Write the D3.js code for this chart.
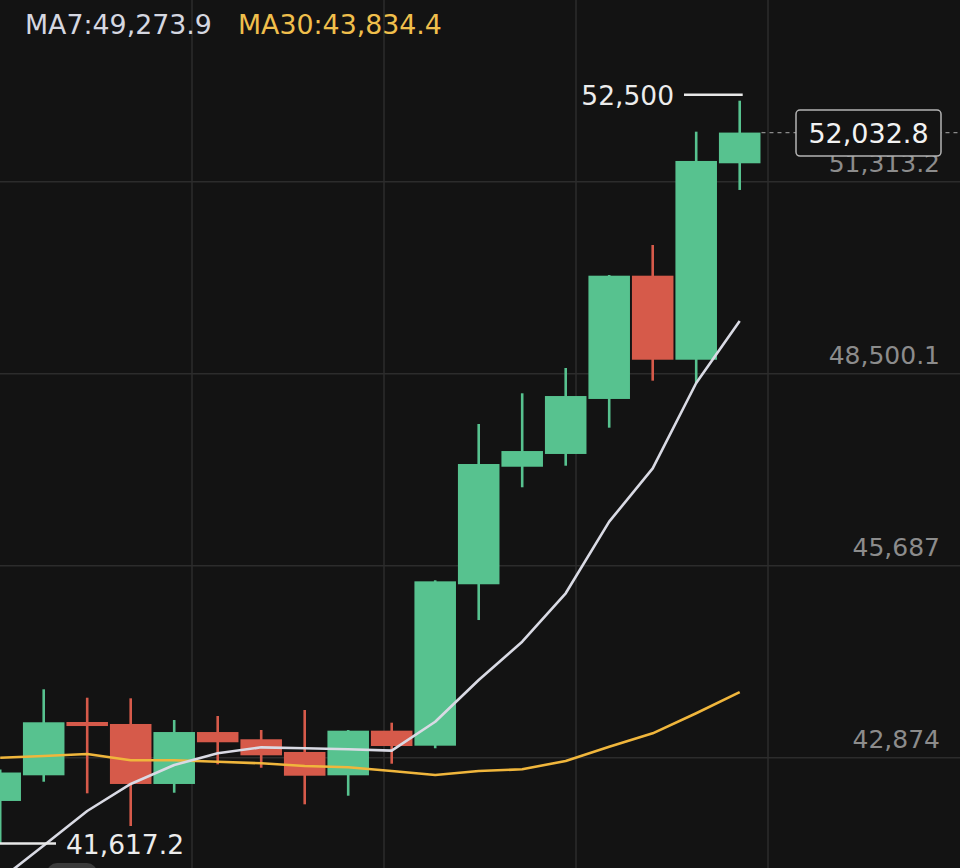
<!DOCTYPE html>
<html>
<head>
<meta charset="utf-8">
<script src="https://cdn.jsdelivr.net/npm/d3@7/dist/d3.min.js"></script>
<style>
  html, body { margin: 0; padding: 0; background: #131313; }
  svg { display: block; }
  text { font-family: "DejaVu Sans", sans-serif; }
</style>
</head>
<body>
<svg id="chart" width="960" height="868"></svg>
<script>
// ---- data ----
const opens  = [42240, 42616, 43397, 43368, 42489, 43250, 43144, 42958, 42616, 43270, 43050, 45415, 47137, 47324, 48130, 49936, 48705, 51583];
const highs  = [42700, 43876, 43753, 43744, 43426, 43485, 43280, 43573, 43280, 43387, 45473, 47763, 48213, 48584, 49946, 50386, 52046, 52500];
const lows   = [41617.2, 42522, 42352, 41873, 42361, 42777, 42727, 42191, 42317, 42786, 43012, 44891, 46836, 47152, 47709, 48398, 48360, 51192];
const closes = [42657, 43393, 43338, 42489, 43250, 43100, 42909, 42610, 43270, 43045, 45458, 47177, 47367, 48173, 49936, 48705, 51617, 52032.8];
const ma7    = [41087, 41589, 42093, 42489, 42767, 42938, 43026, 43012, 42997, 42977, 43401, 44012, 44574, 45283, 46332, 47114, 48364, 49274];
const ma30   = [42874, 42899, 42928, 42836, 42836, 42815, 42792, 42752, 42733, 42679, 42621, 42679, 42704, 42826, 43035, 43231, 43525, 43834];
const priceTicks = [42874, 45687, 48500.1, 51313.2];
const tickLabels = ["42,874", "45,687", "48,500.1", "51,313.2"];
const lastPrice = 52032.8;
const lastPriceLabel = "52,032.8";
const highLabel = "52,500";
const lowLabel = "41,617.2";
const ma7Label = "MA7:49,273.9";
const ma30Label = "MA30:43,834.4";

// ---- layout ----
const W = 960, H = 868;
const svg = d3.select("#chart");
const GREEN = "#57c28f", RED = "#d65a4a", GRID = "#2c2c2c";

const x = d3.scaleLinear().domain([0, opens.length - 1]).range([0.2, 739.7]);
const y = d3.scaleLinear().domain([42874, 51313.2]).range([757.7, 181.7]);
const step = x(1) - x(0);
const bodyW = step * 0.955;

svg.append("rect").attr("width", W).attr("height", H).attr("fill", "#131313");

// grid
const g = svg.append("g");
g.selectAll("line.h").data(priceTicks).join("line")
  .attr("x1", 0).attr("x2", W)
  .attr("y1", d => y(d)).attr("y2", d => y(d))
  .attr("stroke", GRID).attr("stroke-width", 1.5);
g.selectAll("line.v").data([1, 2, 3, 4]).join("line")
  .attr("x1", d => W * d / 5).attr("x2", d => W * d / 5)
  .attr("y1", 0).attr("y2", H)
  .attr("stroke", GRID).attr("stroke-width", 1.5);

// axis labels
svg.append("g").selectAll("text").data(priceTicks).join("text")
  .attr("x", 940).attr("y", d => y(d) - 10)
  .attr("text-anchor", "end")
  .attr("font-size", 25)
  .attr("fill", "#8c8c8c")
  .text((d, i) => tickLabels[i]);

// candles
const idx = d3.range(opens.length);
const cg = svg.append("g");
cg.selectAll("line.wick").data(idx).join("line")
  .attr("x1", i => x(i)).attr("x2", i => x(i))
  .attr("y1", i => y(highs[i])).attr("y2", i => y(lows[i]))
  .attr("stroke", i => closes[i] >= opens[i] ? GREEN : RED)
  .attr("stroke-width", 2.6);
cg.selectAll("rect.body").data(idx).join("rect")
  .attr("x", i => x(i) - bodyW / 2)
  .attr("width", bodyW)
  .attr("y", i => y(Math.max(opens[i], closes[i])))
  .attr("height", i => Math.max(1.5, Math.abs(y(opens[i]) - y(closes[i]))))
  .attr("fill", i => closes[i] >= opens[i] ? GREEN : RED);

// MA lines
const line = arr => d3.line().x((d, i) => x(i)).y(d => y(d))(arr);
svg.append("path").attr("d", line(ma30)).attr("fill", "none")
  .attr("stroke", "#f0b63c").attr("stroke-width", 2.6).attr("stroke-linejoin", "round");
svg.append("path").attr("d", line(ma7)).attr("fill", "none")
  .attr("stroke", "#d9dae4").attr("stroke-width", 2.6).attr("stroke-linejoin", "round");

// legend
svg.append("text").attr("x", 25).attr("y", 34).attr("font-size", 26.8)
  .attr("fill", "#d5d7e0").text(ma7Label);
svg.append("text").attr("x", 238).attr("y", 34).attr("font-size", 26.8)
  .attr("fill", "#f0bf4c").text(ma30Label);

// high marker
const last = opens.length - 1;
const hy = y(highs[last]) - 6;
svg.append("line").attr("x1", 684).attr("x2", x(last) + 3).attr("y1", hy).attr("y2", hy)
  .attr("stroke", "#e8e8e8").attr("stroke-width", 2.5);
svg.append("text").attr("x", 674).attr("y", hy + 10.5).attr("text-anchor", "end")
  .attr("font-size", 26.5).attr("fill", "#ececec").text(highLabel);

// low marker
const ly = y(lows[0]);
svg.append("line").attr("x1", 0).attr("x2", 56).attr("y1", ly).attr("y2", ly)
  .attr("stroke", "#e8e8e8").attr("stroke-width", 2.5);
svg.append("text").attr("x", 66).attr("y", ly + 10.5)
  .attr("font-size", 26.5).attr("fill", "#ececec").text(lowLabel);

// last price line + box
const py = y(lastPrice);
svg.append("line").attr("x1", x(last) + bodyW / 2 + 1).attr("x2", W).attr("y1", py).attr("y2", py)
  .attr("stroke", "#8a8a8a").attr("stroke-width", 1.3).attr("stroke-dasharray", "4,4");
svg.append("rect").attr("x", 796).attr("y", py - 22.5).attr("width", 145).attr("height", 46)
  .attr("rx", 4).attr("fill", "#131313").attr("stroke", "#b4b4b4").attr("stroke-width", 1.5);
svg.append("text").attr("x", 868.5).attr("y", py + 10.5).attr("text-anchor", "middle")
  .attr("font-size", 27).attr("fill", "#f2f2f2").text(lastPriceLabel);

// bottom toolbar hint (cut off)
svg.append("rect").attr("x", 47).attr("y", 863).attr("width", 50).attr("height", 30)
  .attr("rx", 10).attr("fill", "#3a3a3a");
</script>
</body>
</html>
